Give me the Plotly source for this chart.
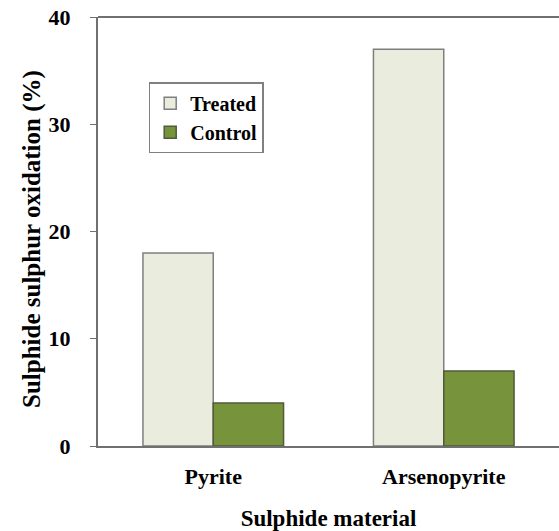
import plotly.graph_objects as go

categories = ["Pyrite", "Arsenopyrite"]
treated = [18.0, 37.0]
control = [4.0, 7.0]
y_ticks = [0, 10, 20, 30, 40]

FONT = "Liberation Serif"

fig = go.Figure()
fig.add_trace(go.Bar(name="Treated", x=categories, y=treated,
                     marker=dict(color="#EAEDDD", line=dict(color="#7F7F7F", width=1.5))))
fig.add_trace(go.Bar(name="Control", x=categories, y=control,
                     marker=dict(color="#77933C", line=dict(color="#4F5B3A", width=1.5))))

fig.update_layout(
    width=559, height=531,
    margin=dict(l=98, r=0, t=17, b=85, autoexpand=False),
    plot_bgcolor="white", paper_bgcolor="white",
    barmode="group", bargap=0.39, bargroupgap=0,
    font=dict(family=FONT, size=16, color="black"),
    showlegend=True,
    legend=dict(x=0.11, y=0.848, xanchor="left", yanchor="top",
                bgcolor="white", bordercolor="#808080", borderwidth=1.5,
                font=dict(family=FONT, size=20, color="black", weight="bold"),
                itemwidth=30, tracegroupgap=4),
)
fig.update_xaxes(
    range=[-0.5, 1.5], showline=True, linecolor="#707070", linewidth=2,
    mirror=False, ticks="", showgrid=False, automargin=False,
    ticklabelstandoff=10,
    tickfont=dict(family=FONT, size=22, weight="bold"),
    title=dict(text="Sulphide material", font=dict(family=FONT, size=23, weight="bold"), standoff=22),
)
fig.update_yaxes(
    range=[0, 40], tickvals=y_ticks, showline=True, linecolor="#707070", linewidth=2,
    mirror=False, ticks="outside", ticklen=6, tickcolor="#707070", showgrid=False,
    zeroline=False, ticklabelstandoff=15, automargin=False,
    tickfont=dict(family=FONT, size=22, weight="bold"),
)
fig.add_annotation(text="<b>Sulphide sulphur oxidation (%)</b>", xref="paper", yref="paper",
                   x=0, xshift=-66, y=0.4825, xanchor="center", yanchor="middle",
                   textangle=-90, showarrow=False,
                   font=dict(family=FONT, size=25, color="black"))
# top border line
fig.add_shape(type="line", xref="paper", yref="paper", x0=0, x1=1, y0=1, y1=1,
              line=dict(color="#707070", width=2))

fig.write_html("out.html", config={"displayModeBar": False},
               post_script="document.body.style.margin='0';document.body.style.overflow='hidden';")
